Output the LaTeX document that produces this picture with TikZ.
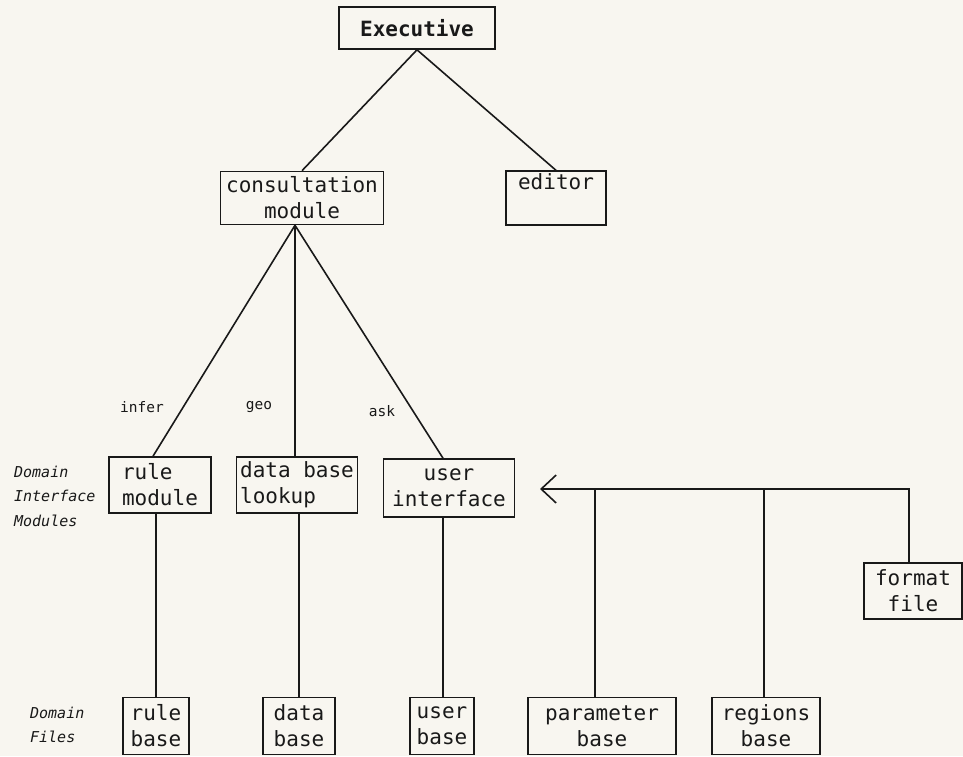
\documentclass[tikz,border=0pt]{standalone}
\usepackage{fontspec}
\setmonofont{DejaVu Sans Mono}
\usetikzlibrary{arrows.meta}
\definecolor{paper}{RGB}{248,246,240}
\definecolor{ink}{RGB}{25,25,25}
\newcommand\boxfont{\ttfamily\fontsize{21}{26}\selectfont}
\begin{document}
\begin{tikzpicture}[x=1pt, y=-1pt, line width=1.6pt, color=ink,
    box/.style={draw, font=\boxfont, align=center, inner sep=2pt, minimum height=56},
    arclabel/.style={font=\ttfamily\fontsize{14.5}{16}\selectfont},
    levellabel/.style={font=\ttfamily\itshape\fontsize{15}{24.5}\selectfont, align=left, anchor=west}]
  \fill[paper] (0,0) rectangle (963,756);
  \useasboundingbox (0,0) rectangle (963,756);
  % top of the tree
  \draw (417,  28) node [box, font=\boxfont\bfseries, minimum width=156, minimum height=42] (exec) {Executive}
        (302, 198) node [box, minimum width=163, minimum height=53] (consult) {consultation\\module}
        (556, 198) node [box, align=left, minimum width=100, minimum height=52] (editor) {editor\\\strut}
  % domain interface modules
        (160, 485) node [box, align=left, minimum width=102] (rulemod) {rule\\module}
        (297, 485) node [box, align=left, minimum width=121] (dblookup) {data base\\lookup}
        (449, 488) node [box, minimum width=131, minimum height=58] (userif) {user\\interface}
        (913, 591) node [box, minimum width=98] (format) {format\\file}
  % domain files
        (156, 726) node [box, align=left, minimum width=66, minimum height=57] (rulebase) {rule\\base}
        (299, 726) node [box, minimum width=72, minimum height=57] (database) {data\\base}
        (442, 726) node [box, minimum width=64, minimum height=57] (userbase) {user\\base}
        (602, 726) node [box, minimum width=148, minimum height=57] (parambase) {parameter\\base}
        (766, 726) node [box, minimum width=108, minimum height=57] (regionsbase) {regions\\base};
  \node [arclabel] (infer) at (142, 407) {infer};
  \node [arclabel] (geo) at (259, 407) {geo};
  \node [arclabel] (ask) at (382, 411) {ask};
  \node [levellabel] (ifacelabel) at (10, 496) {Domain\\Interface\\Modules};
  \node [levellabel] (fileslabel) at (26, 725) {Domain\\Files};
  % connectors
  \draw (exec.south) edge (consult.north)
                     edge (editor.north);
  \draw ([xshift=-7pt]consult.south) coordinate (fork)
        (fork) edge ([xshift=-7pt]rulemod.north)
        (fork) edge (fork |- dblookup.north)
        (fork) edge ([xshift=-6pt]userif.north);
  \draw (rulebase.north) -- (rulebase.north |- rulemod.south);
  \draw (database.north) -- (database.north |- dblookup.south);
  \draw ([xshift=-6pt]userif.south) -- ([xshift=-6pt]userif.south |- userbase.north);
  \coordinate (tip) at (540, 489);
  \draw [-{Straight Barb[length=15pt, width=28pt]}] ([xshift=-4pt]format.north) |- (tip);
  \draw ([xshift=-7pt]parambase.north) -- ([xshift=-7pt]parambase.north |- tip);
  \draw ([xshift=-2pt]regionsbase.north) -- ([xshift=-2pt]regionsbase.north |- tip);
\end{tikzpicture}
\end{document}
